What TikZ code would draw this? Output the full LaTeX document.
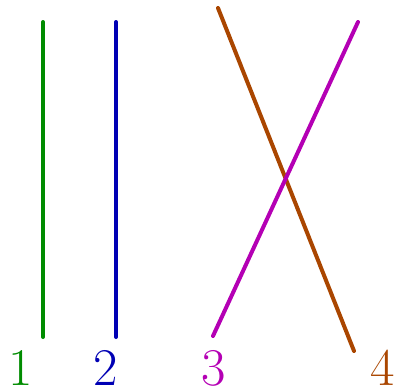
\documentclass[tikz,border=0pt]{standalone}
\definecolor{cgreen}{RGB}{0,140,0}
\definecolor{cblue}{RGB}{0,0,180}
\definecolor{cmag}{RGB}{180,0,180}
\definecolor{cbrown}{RGB}{170,70,0}
\begin{document}
\begin{tikzpicture}[x=1pt,y=-1pt,
  strand/.style={line width=4pt,line cap=round},
  lbl/.style={anchor=base,inner sep=0pt,font=\fontsize{53}{60}\selectfont}]
\useasboundingbox (0,0) rectangle (396,389);
\coordinate (g1) at (43,22); \coordinate (g2) at (43,337);
\coordinate (b1) at (116,22); \coordinate (b2) at (116,337);
\coordinate (m1) at (213,336); \coordinate (m2) at (358,22);
\coordinate (r1) at (218,8); \coordinate (r2) at (354,351);
\draw[strand,cgreen] (g1) -- (g2);
\draw[strand,cblue] (b1) -- (b2);
\draw[strand,cbrown] (r1) -- (r2);
\draw[strand,cmag] (m1) -- (m2);
\node[lbl,text=cgreen] (l1) at (21,385) {1};
\node[lbl,text=cblue] (l2) at (106,385) {2};
\node[lbl,text=cmag] (l3) at (214,385) {3};
\node[lbl,text=cbrown] (l4) at (383,385) {4};
\end{tikzpicture}
\end{document}
